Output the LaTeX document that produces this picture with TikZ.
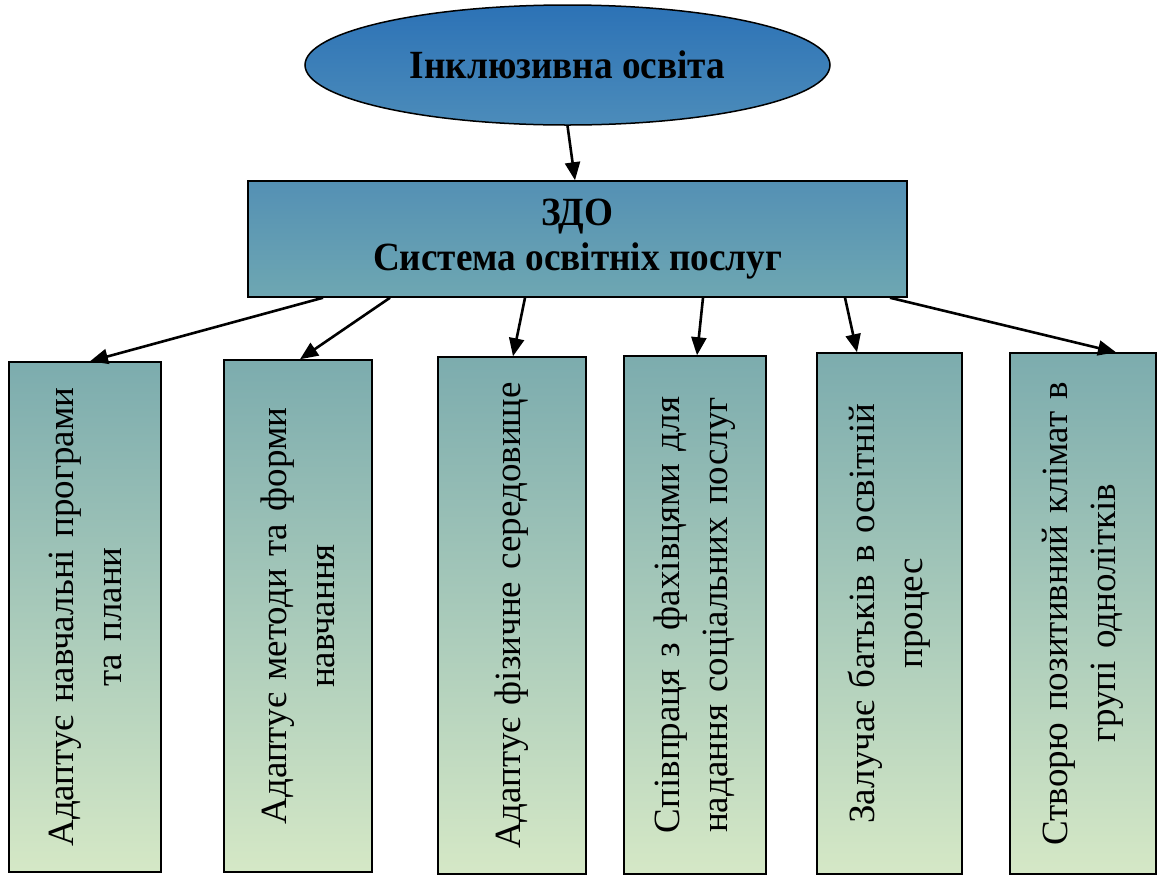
\documentclass[tikz,border=0pt]{standalone}
\usepackage{fontspec}
\setmainfont{Liberation Serif}
\newfontfamily\titlefont[FakeStretch=0.93]{Liberation Serif}
\usepackage{tikz}
\usetikzlibrary{shapes.geometric, arrows.meta, positioning}
\definecolor{ovaltop}{RGB}{44, 114, 182}
\definecolor{ovalbottom}{RGB}{76, 140, 186}
\definecolor{zdotop}{RGB}{84, 144, 180}
\definecolor{zdobottom}{RGB}{110, 167, 178}
\definecolor{itemtop}{RGB}{124, 172, 174}
\definecolor{itemmid}{RGB}{186, 218, 162}
\definecolor{itembottom}{RGB}{213, 232, 198}

\begin{document}
\begin{tikzpicture}[x=1pt, y=-1pt,
    oval/.style={ellipse, draw=black, line width=1.5pt, minimum width=525pt,
                 minimum height=120pt, top color=ovaltop, bottom color=ovalbottom,
                 font=\titlefont\bfseries\fontsize{40}{45}\selectfont},
    mainbox/.style={draw=black, line width=1.5pt, minimum width=659pt, minimum height=116pt,
                    top color=zdotop, bottom color=zdobottom, align=center,
                    font=\titlefont\bfseries\fontsize{40}{45}\selectfont},
    item/.style={draw=black, line width=1.5pt, rotate=90, inner sep=0pt,
                 text width=490pt, align=center, top color=itemtop,
                 middle color=itemmid, bottom color=itembottom,
                 font=\fontsize{37}{48}\selectfont},
    link/.style={-{Triangle[length=18pt, width=15pt]}, line width=2.6pt}
]
    \useasboundingbox (0,0) rectangle (1157,876);

    \node[oval] (incl) at (567.5,65) {Інклюзивна освіта};
    \node[mainbox] (zdo) at (577.5,239) {ЗДО\\Система освітніх послуг};

    \node[item, minimum width=510pt, minimum height=152pt] (adprog) at (85,617)
        {Адаптує навчальні програми\\ та плани};
    \node[item, minimum width=512pt, minimum height=148pt] (admeth) at (298,616)
        {Адаптує методи та форми\\ навчання};
    \node[item, minimum width=517pt, minimum height=148pt] (adenv) at (512,615.5)
        {Адаптує фізичне середовище};
    \node[item, minimum width=518pt, minimum height=142pt] (collab) at (695,615)
        {Співпраця з фахівцями для\\ надання соціальних послуг};
    \node[item, minimum width=521pt, minimum height=145pt] (parents) at (889.5,613.5)
        {Залучає батьків в освітній\\ процес};
    \node[item, minimum width=521pt, minimum height=146pt] (climate) at (1083,613.5)
        {Створю позитивний клімат в\\ групі однолітків};

    \draw[link] (incl.south) -- ([xshift=-2.5pt]zdo.north);
    \draw[link] ([xshift=-254.5pt]zdo.south) -- ([xshift=5pt]adprog.east);
    \draw[link] ([xshift=-187.5pt]zdo.south) -- ([xshift=2pt]admeth.east);
    \draw[link] ([xshift=-52.5pt]zdo.south) -- ([xshift=1pt]adenv.east);
    \draw[link] ([xshift=125.5pt]zdo.south) -- ([xshift=2pt]collab.east);
    \draw[link] ([xshift=267.5pt]zdo.south) -- ([xshift=-32.5pt]parents.east);
    \draw[link] ([xshift=312.5pt]zdo.south) -- ([xshift=33pt]climate.east);
\end{tikzpicture}
\end{document}
